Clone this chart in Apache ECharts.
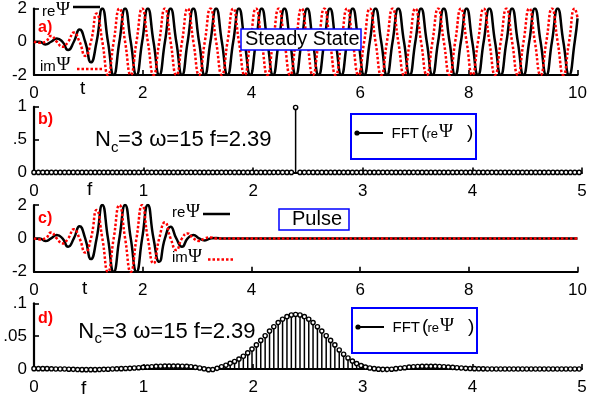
<!DOCTYPE html>
<html><head><meta charset="utf-8">
<script src="https://cdn.jsdelivr.net/npm/echarts@6/dist/echarts.min.js"></script>
<style>html,body{margin:0;padding:0;background:#fff}#c{width:590px;height:403px}</style>
</head><body><div id="c"></div>
<script>
// ---- time samples (quarter-period points) ----
const timeSamples = [0,0.105,0.209,0.314,0.419,0.524,0.628,0.733,0.838,0.942,
1.047,1.152,1.257,1.361,1.466,1.571,1.676,1.780,1.885,1.990,
2.094,2.199,2.304,2.409,2.513,2.618,2.723,2.827,2.932,3.037,
3.142,3.246,3.351,3.456,3.560,3.665,3.770,3.875,3.979,4.084,
4.189,4.294,4.398,4.503,4.608,4.712,4.817,4.922,5.027,5.131,
5.236,5.341,5.445,5.550,5.655,5.760,5.864,5.969,6.074,6.178,
6.283,6.388,6.493,6.597,6.702,6.807,6.912,7.016,7.121,7.226,
7.330,7.435,7.540,7.645,7.749,7.854,7.959,8.063,8.168,8.273,
8.378,8.482,8.587,8.692,8.796,8.901,9.006,9.111,9.215,9.320,
9.425,9.529,9.634,9.739,9.844,9.948,10.0];

// a) steady state
const reSteady = [0,0,-0.16,0,0.2,0,-0.5,0,0.73,0,
-1.24,0,2,0,-2,0,2,0,-2,0,
2,0,-2,0,2,0,-2,0,2,0,
-2,0,2,0,-2,0,2,0,-2,0,
2,0,-2,0,2,0,-2,0,2,0,
-2,0,2,0,-2,0,2,0,-2,0,
2,0,-2,0,2,0,-2,0,2,0,
-2,0,2,0,-2,0,2,0,-2,0,
2,0,-2,0,2,0,-2,0,2,0,
-2,0,2,0,-2,0,1.4];
const imSteady = [0,-0.06,0,0.35,0,-0.3,0,0.55,0,-0.85,
0,1.7,0,-2,0,2,0,-2,0,2,
0,-2,0,2,0,-2,0,2,0,-2,
0,2,0,-2,0,2,0,-2,0,2,
0,-2,0,2,0,-2,0,2,0,-2,
0,2,0,-2,0,2,0,-2,0,2,
0,-2,0,2,0,-2,0,2,0,-2,
0,2,0,-2,0,2,0,-2,0,2,
0,-2,0,2,0,-2,0,2,0,-2,
0,2,0,-2,0,2,1.43];

// c) pulse
const rePulse = [0,0,-0.16,0,0.2,0,-0.5,0,0.73,0,
-1.24,0,2,0,-2,0,2,0,-2,0,
2,0,-1.4,0,0.7,0,-0.5,0,0.2,0,
-0.12,0,0.03,0,0,0,0,0,0,0,
0,0,0,0,0,0,0,0,0,0,
0,0,0,0,0,0,0,0,0,0,
0,0,0,0,0,0,0,0,0,0,
0,0,0,0,0,0,0,0,0,0,
0,0,0,0,0,0,0,0,0,0,
0,0,0,0,0,0,0];
const imPulse = [0,-0.06,0,0.35,0,-0.3,0,0.55,0,-0.85,
0,1.7,0,-2,0,2,0,-2,0,2,
0,-1.5,0,0.96,0,-0.7,0,0.3,0,-0.15,
0,0.06,0,0,0,0,0,0,0,0,
0,0,0,0,0,0,0,0,0,0,
0,0,0,0,0,0,0,0,0,0,
0,0,0,0,0,0,0,0,0,0,
0,0,0,0,0,0,0,0,0,0,
0,0,0,0,0,0,0,0,0,0,
0,0,0,0,0,0,0];

// FFT frequency bins
const freqBins = [0,0.040,0.080,0.119,0.159,0.199,0.239,0.279,0.318,0.358,
0.398,0.438,0.477,0.517,0.557,0.597,0.637,0.676,0.716,0.756,
0.796,0.836,0.875,0.915,0.955,0.995,1.035,1.074,1.114,1.154,
1.194,1.233,1.273,1.313,1.353,1.393,1.432,1.472,1.512,1.552,
1.592,1.631,1.671,1.711,1.751,1.790,1.830,1.870,1.910,1.950,
1.989,2.029,2.069,2.109,2.149,2.188,2.228,2.268,2.308,2.348,
2.387,2.427,2.467,2.507,2.546,2.586,2.626,2.666,2.706,2.745,
2.785,2.825,2.865,2.905,2.944,2.984,3.024,3.064,3.104,3.143,
3.183,3.223,3.263,3.302,3.342,3.382,3.422,3.462,3.501,3.541,
3.581,3.621,3.661,3.700,3.740,3.780,3.820,3.859,3.899,3.939,
3.979,4.019,4.058,4.098,4.138,4.178,4.218,4.257,4.297,4.337,
4.377,4.417,4.456,4.496,4.536,4.576,4.615,4.655,4.695,4.735,
4.775,4.814,4.854,4.894,4.934,4.974];

// b) FFT of steady state
const fftSteady = [0,0,0,0,0,0,0,0,0,0,
0,0,0,0,0,0,0,0,0,0,
0,0,0,0,0,0,0,0,0,0,
0,0,0,0,0,0,0,0,0,0,
0,0,0,0,0,0,0,0,0,0,
0,0,0,0,0,0,0,0,0,0,
0.99,0,0,0,0,0,0,0,0,0,
0,0,0,0,0,0,0,0,0,0,
0,0,0,0,0,0,0,0,0,0,
0,0,0,0,0,0,0,0,0,0,
0,0,0,0,0,0,0,0,0,0,
0,0,0,0,0,0,0,0,0,0,
0,0,0,0,0,0];

// d) FFT of pulse
const fftPulse = [0.0005,0.0005,0.0005,0.0005,0.0003,0,0,0,-0.0003,-0.0005,
-0.0008,-0.001,-0.001,-0.001,-0.001,-0.0008,-0.0005,-0.0003,0,0.0003,
0.0005,0.0008,0.001,0.0015,0.002,0.0025,0.003,0.0035,0.004,0.0042,
0.0045,0.0045,0.0045,0.0045,0.0042,0.004,0.0035,0.0025,0.0015,0.0003,
-0.001,-0.0008,0.001,0.0035,0.0058,0.0086,0.0115,0.0151,0.0194,0.0245,
0.0303,0.0367,0.0435,0.0506,0.0577,0.0644,0.0706,0.0758,0.0797,0.0822,
0.083,0.0822,0.0797,0.0758,0.0706,0.0644,0.0577,0.0506,0.0435,0.0367,
0.029,0.0225,0.0168,0.012,0.0082,0.0052,0.003,0.0015,0.0005,-0.0002,
-0.0006,-0.0006,-0.0003,0.0005,0.0012,0.002,0.0028,0.0034,0.0038,0.004,
0.004,0.004,0.004,0.0038,0.0035,0.003,0.0025,0.002,0.0015,0.001,
0.0007,0.0005,0.0003,0.0002,0.0001,0,0,0,0,0,
0,0,0,0,0,0,0,0,0,0,
0,0,0,0,0,0];

const yLabelsB = {0:'0', 0.5:'.5', 1:'1'};
const yLabelsD = {0:'0', 0.05:'.05', 0.1:'.1'};

const SANS = 'Liberation Sans, Arial, Helvetica, sans-serif';
const SERIF = 'Liberation Serif, Times New Roman, serif';

const chart = echarts.init(document.getElementById('c'), null, {renderer:'canvas'});

const grids = [
  {left:34, top:7.3, width:548, height:67.7},
  {left:34, top:106.8, width:548, height:65.6},
  {left:34, top:205, width:548, height:66.8},
  {left:34, top:303.3, width:548, height:65.7}
];

function xAx(i, max, interval){
  return {type:'value', gridIndex:i, min:0, max:max, interval:interval,
    axisLine:{show:true, onZero:false, lineStyle:{color:'#000', width:2.2}},
    axisTick:{show:true, inside:true, length:5, lineStyle:{color:'#000', width:1.6}},
    axisLabel:{color:'#000', fontSize:17, fontFamily:SANS, margin:10},
    splitLine:{show:false}};
}
function yAx(i, min, max, interval, fmt){
  return {type:'value', gridIndex:i, min:min, max:max, interval:interval,
    axisLine:{show:true, onZero:false, lineStyle:{color:'#000', width:2.2}},
    axisTick:{show:true, inside:true, length:5, lineStyle:{color:'#000', width:1.6}},
    axisLabel:{color:'#000', fontSize:17, fontFamily:SANS, margin:7, formatter:fmt, padding:[4,0,0,0]},
    splitLine:{show:false}};
}

function lineSeries(i, ys, color, dashed){
  return {type:'line', xAxisIndex:i, yAxisIndex:i, showSymbol:false, smooth:0.55,
    data: timeSamples.map((t,k)=>[t, ys[k]]),
    lineStyle:{color:color, width:2.5, type: dashed ? [2.5,2] : 'solid', cap:'butt'},
    itemStyle:{color:color}, z: dashed ? 4 : 3, silent:true};
}
function stemSeries(i, vals){
  return {type:'custom', xAxisIndex:i, yAxisIndex:i, clip:false, z:3, silent:true,
    data: freqBins.map((f,k)=>[f, vals[k]]),
    renderItem:function(params, api){
      const p0 = api.coord([api.value(0), 0]);
      const p1 = api.coord([api.value(0), api.value(1)]);
      return {type:'group', children:[
        {type:'line', shape:{x1:p0[0], y1:p0[1], x2:p1[0], y2:p1[1]}, style:{stroke:'#000', lineWidth:1.5}},
        {type:'circle', shape:{cx:p1[0], cy:p1[1], r:2.1}, style:{fill:'#fff', stroke:'#000', lineWidth:1.4}}
      ]};
    }};
}

function txt(x, y, s, size, opts){
  opts = opts || {};
  return {type:'text', x:x, y:y, z:100, silent:true, style:{text:s, fontSize:size,
    fontFamily:opts.family || SANS, fontWeight:opts.weight || 'normal', fill:opts.color || '#000',
    align:'left', verticalAlign:'middle'}};
}
function seg(x1, y1, x2, y2, color, width, dash){
  return {type:'line', z:100, silent:true, shape:{x1:x1,y1:y1,x2:x2,y2:y2},
    style:{stroke:color, lineWidth:width, lineDash:dash || null}};
}
function box(x, y, w, h, lw){
  return {type:'rect', z:99, silent:true, shape:{x:x, y:y, width:w, height:h},
    style:{fill:'#fff', stroke:'#0000ff', lineWidth:lw}};
}
function fftLegend(x, y){
  return [
    box(x, y, 125, 45, 2),
    seg(x+6, y+19, x+32, y+19, '#000', 2),
    {type:'circle', z:101, silent:true, shape:{cx:x+6, cy:y+19, r:2.6}, style:{fill:'#000'}},
    txt(x+40.5, y+19.6, 'FFT', 15),
    txt(x+70, y+18.3, '(', 19),
    txt(x+75.5, y+20.5, 're', 13),
    txt(x+88, y+18.5, 'Ψ', 19, {family:SERIF}),
    txt(x+116, y+18.3, ')', 19)
  ];
}

const graphics = [
  // panel a
  txt(42, 11.5, 're', 15), txt(56, 10.5, 'Ψ', 19, {family:SERIF}),
  seg(73, 7, 100, 7, '#000', 2.5),
  txt(40, 66.5, 'im', 15), txt(56.5, 65.5, 'Ψ', 19, {family:SERIF}),
  seg(77, 69, 103, 69, '#ff0000', 2.5, [2.5,2]),
  txt(38, 27.5, 'a)', 16, {weight:'bold', color:'#ff0000'}),
  box(241, 29, 120, 21, 1.5), txt(245, 39.5, 'Steady State', 20),
  txt(80, 88.5, 't', 19),
  // panel b
  txt(38, 120, 'b)', 16, {weight:'bold', color:'#ff0000'}),
  txt(95, 140.3, 'N', 22), txt(111, 148, 'c', 15), txt(118, 140.3, '=3 ω=15 f=2.39', 22),
  ...fftLegend(351, 114),
  txt(87, 189.7, 'f', 19),
  // panel c
  txt(38, 219, 'c)', 16, {weight:'bold', color:'#ff0000'}),
  txt(172, 213, 're', 15), txt(186, 212, 'Ψ', 19, {family:SERIF}),
  seg(203, 214, 230, 214, '#000', 2.5),
  txt(172, 258, 'im', 15), txt(188, 257, 'Ψ', 19, {family:SERIF}),
  seg(208, 259.5, 233, 259.5, '#ff0000', 2.5, [2.5,2]),
  box(279, 209, 70, 21, 1.5), txt(292, 219.7, 'Pulse', 20),
  txt(82, 288.7, 't', 19),
  // panel d
  txt(38, 319, 'd)', 16, {weight:'bold', color:'#ff0000'}),
  txt(78.3, 331.6, 'N', 22), txt(94.5, 339, 'c', 15), txt(102, 331.6, '=3 ω=15 f=2.39', 22),
  ...fftLegend(352, 308),
  txt(81, 388.7, 'f', 19)
];

chart.setOption({
  animation:false,
  backgroundColor:'#fff',
  grid: grids,
  xAxis: [xAx(0,10,2), xAx(1,5,1), xAx(2,10,2), xAx(3,5,1)],
  yAxis: [
    yAx(0,-2,2,2),
    yAx(1,0,1,0.5, v=>yLabelsB[v] !== undefined ? yLabelsB[v] : String(v)),
    yAx(2,-2,2,2),
    yAx(3,0,0.1,0.05, v=>{ const k = Math.round(v*100)/100; return yLabelsD[k] !== undefined ? yLabelsD[k] : String(v);})
  ],
  series: [
    lineSeries(0, reSteady, '#000', false),
    lineSeries(0, imSteady, '#ff0000', true),
    stemSeries(1, fftSteady),
    lineSeries(2, rePulse, '#000', false),
    lineSeries(2, imPulse, '#ff0000', true),
    stemSeries(3, fftPulse)
  ],
  graphic: graphics
});
</script>
</body></html>
